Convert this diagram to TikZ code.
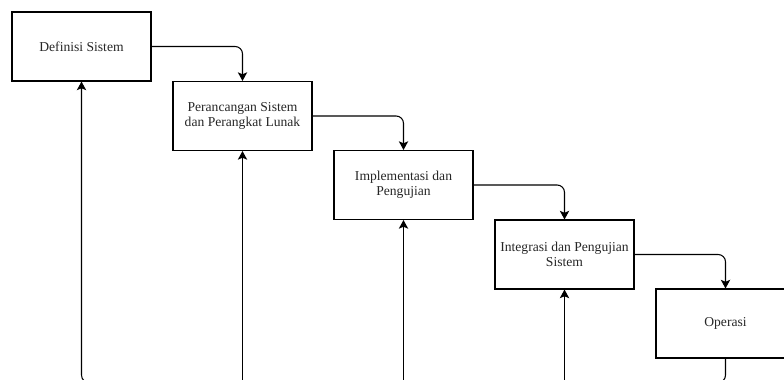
\documentclass[tikz,border=0pt]{standalone}
\usepackage{fontspec}
\setmainfont{Liberation Serif}
\usetikzlibrary{arrows.meta}
\begin{document}
\begin{tikzpicture}[x=0.75pt,y=-0.75pt,
  box/.style={draw, line width=0.8pt, minimum width=104.25pt, minimum height=51.75pt,
    inner sep=0pt, align=center, text=black!85, font=\fontsize{10.2}{11.5}\selectfont},
  flow/.style={line width=0.8pt, rounded corners=5.5pt, -{Stealth[length=6.5pt,width=7pt,inset=1.5pt]}},
  back/.style={line width=0.8pt, rounded corners=6pt, -{Stealth[length=6.5pt,width=7pt,inset=1.5pt]}}]
\useasboundingbox (0,0) rectangle (784,379);
\clip (0,0) rectangle (784,379);
\node[box] (a) at (81.5,46.5) {Definisi Sistem};
\node[box] (b) at (242.5,116) {Perancangan Sistem\\dan Perangkat Lunak};
\node[box] (c) at (403.5,185) {Implementasi dan\\Pengujian};
\node[box] (d) at (564.5,254.5) {Integrasi dan Pengujian\\Sistem};
\node[box] (e) at (725.5,323.5) {Operasi};
\coordinate (bot) at (0,383);
\draw[flow] (a.east) -| (b.north);
\draw[flow] (b.east) -| (c.north);
\draw[flow] (c.east) -| (d.north);
\draw[flow] (d.east) -| (e.north);
\draw[back] (e.south) |- (a.south |- bot) -- (a.south);
\draw[back] (b.south |- bot) -- (b.south);
\draw[back] (c.south |- bot) -- (c.south);
\draw[back] (d.south |- bot) -- (d.south);
\end{tikzpicture}
\end{document}
